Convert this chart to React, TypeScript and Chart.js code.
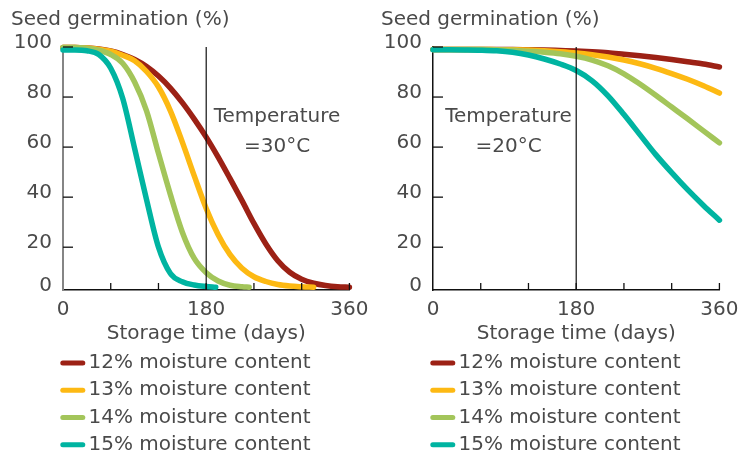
import React, { useEffect, useRef } from "react";
import { Chart, registerables } from "chart.js";

Chart.register(...registerables);

const FONT_FAMILY = "'DejaVu Sans', 'Open Sans', sans-serif";
const TEXT_COLOR = "#4a4a4a";
const FONT_SIZE = 20;

const seriesLabels = [
  "12% moisture content",
  "13% moisture content",
  "14% moisture content",
  "15% moisture content",
];
const seriesColors = ["#9c2115", "#fdb913", "#a3c55a", "#00b4a1"];

const xTickValues = [0, 60, 120, 180, 240, 300, 360];
const xTickLabels = ["0", "", "", "180", "", "", "360"];
const yTickValues = [0, 20, 40, 60, 80, 100];
const yTickLabels = ["0", "20", "40", "60", "80", "100"];
const yAxisTitle = "Seed germination (%)";
const xAxisTitle = "Storage time (days)";
const markerDay = 180;

// Temperature = 30°C (storage days, germination %)
const days30_12 = [0, 15, 30, 45, 60, 75, 90, 105, 120, 135, 150, 165, 180, 195, 210, 225, 240, 255, 270, 285, 300, 315, 330, 345, 360];
const germ30_12 = [99.8, 99.8, 99.6, 99.2, 98.4, 97, 95, 92.2, 88.4, 83.6, 77.8, 71.2, 64, 56, 47.4, 38.6, 29.5, 21.3, 14.6, 10, 7.2, 5.6, 4.7, 4.2, 4];
const days30_13 = [0, 15, 30, 45, 60, 75, 90, 105, 120, 135, 150, 165, 180, 195, 210, 225, 240, 255, 270, 285, 300, 315];
const germ30_13 = [99.8, 99.8, 99.6, 99.1, 98.3, 96.7, 94.5, 90.2, 84, 74.5, 62, 48.5, 35.5, 25, 17, 11.6, 8.2, 6.3, 5.1, 4.5, 4.2, 4];
const days30_14 = [0, 15, 30, 45, 60, 75, 90, 105, 120, 135, 150, 165, 180, 195, 210, 225, 234];
const germ30_14 = [99.8, 99.8, 99.5, 98.7, 97, 93.5, 86, 74.5, 57.5, 41, 26, 15.5, 9.8, 6.5, 4.8, 4.2, 4];
const days30_15 = [0, 15, 30, 45, 60, 75, 90, 105, 120, 135, 150, 165, 180, 192];
const germ30_15 = [98.8, 98.8, 98.5, 97, 91.5, 79.5, 59.5, 39, 20, 9.5, 6.2, 4.9, 4.3, 4];

// Temperature = 20°C
const days20 = [0, 20, 40, 60, 80, 100, 120, 140, 160, 180, 200, 220, 240, 260, 280, 300, 320, 340, 360];
const germ20_12 = [99, 99, 99, 99, 99, 99, 98.9, 98.8, 98.6, 98.4, 98.1, 97.7, 97.1, 96.5, 95.8, 95, 94.1, 93.2, 92];
const germ20_13 = [99, 99, 99, 99, 98.95, 98.9, 98.8, 98.5, 98.1, 97.6, 96.9, 96, 94.8, 93.3, 91.5, 89.4, 87.1, 84.5, 81.6];
const germ20_14 = [99, 99, 99, 99, 98.9, 98.7, 98.3, 97.9, 97.3, 96.3, 94.8, 92.5, 89.3, 85.2, 80.7, 76, 71.3, 66.5, 61.7];
const germ20_15 = [98.9, 98.9, 98.85, 98.75, 98.5, 97.9, 96.8, 95.2, 93.2, 90.6, 86.5, 80.5, 73, 65, 57, 49.8, 43, 36.7, 30.8];

const zip = (xs: number[], ys: number[]) => xs.map((x, i) => ({ x, y: ys[i] }));

type PanelSpec = {
  series: { x: number; y: number }[][];
  tempLines: string[];
  annotDay: number;
  annotLevels: number[];
  yAxisColor: string;
  yAxisWidth: number;
};

const panel30: PanelSpec = {
  series: [
    zip(days30_12, germ30_12),
    zip(days30_13, germ30_13),
    zip(days30_14, germ30_14),
    zip(days30_15, germ30_15),
  ],
  tempLines: ["Temperature", "=30°C"],
  annotDay: 269,
  annotLevels: [72.0, 60.0],
  yAxisColor: "#858585",
  yAxisWidth: 2,
};

const panel20: PanelSpec = {
  series: [
    zip(days20, germ20_12),
    zip(days20, germ20_13),
    zip(days20, germ20_14),
    zip(days20, germ20_15),
  ],
  tempLines: ["Temperature", "=20°C"],
  annotDay: 95,
  annotLevels: [72.0, 60.0],
  yAxisColor: "#111111",
  yAxisWidth: 1.5,
};

const Y_MIN = 2.9;
const font = `${FONT_SIZE}px ${FONT_FAMILY}`;

function makeDecorPlugin(spec: PanelSpec) {
  return {
    id: "decor",
    afterDatasetsDraw(chart: any) {
      const { ctx, chartArea, scales } = chart;
      const xs = scales.x;
      const ys = scales.y;
      const { left, top, bottom } = chartArea;
      ctx.save();
      ctx.strokeStyle = "#111111";
      ctx.lineWidth = 1.2;
      const mx = xs.getPixelForValue(markerDay);
      ctx.beginPath();
      ctx.moveTo(mx, top);
      ctx.lineTo(mx, bottom);
      ctx.stroke();
      ctx.lineWidth = 1.3;
      xTickValues.forEach((v) => {
        if (v === 0) return;
        const px = xs.getPixelForValue(v);
        ctx.beginPath();
        ctx.moveTo(px, bottom);
        ctx.lineTo(px, bottom - 7);
        ctx.stroke();
      });
      yTickValues.forEach((v) => {
        if (v === 0) return;
        const py = ys.getPixelForValue(v);
        ctx.beginPath();
        ctx.moveTo(left, py);
        ctx.lineTo(left + 10, py);
        ctx.stroke();
      });
      ctx.restore();
    },
    afterDraw(chart: any) {
      const { ctx, chartArea, scales } = chart;
      const xs = scales.x;
      const ys = scales.y;
      const { left, bottom } = chartArea;
      ctx.save();
      ctx.font = font;
      ctx.fillStyle = TEXT_COLOR;
      ctx.textBaseline = "middle";
      ctx.textAlign = "left";
      ctx.fillText(yAxisTitle, left - 52, 19.6);
      ctx.textAlign = "center";
      const ax = xs.getPixelForValue(spec.annotDay);
      spec.tempLines.forEach((t, i) => {
        ctx.fillText(t, ax, ys.getPixelForValue(spec.annotLevels[i]));
      });
      chart.data.datasets.forEach((ds: any, i: number) => {
        const y = bottom + 72.9 + i * 27.3;
        ctx.strokeStyle = ds.borderColor;
        ctx.lineWidth = 5;
        ctx.lineCap = "round";
        ctx.beginPath();
        ctx.moveTo(left - 0.2, y);
        ctx.lineTo(left + 19.8, y);
        ctx.stroke();
        ctx.textAlign = "left";
        ctx.fillStyle = TEXT_COLOR;
        ctx.fillText(ds.label, left + 25.5, y);
      });
      ctx.restore();
    },
  };
}

function Panel({ spec, left }: { spec: PanelSpec; left: number }) {
  const ref = useRef<HTMLCanvasElement | null>(null);
  useEffect(() => {
    if (!ref.current) return;
    const chart = new Chart(ref.current, {
      type: "line",
      data: {
        datasets: spec.series.map((pts, i) => ({
          label: seriesLabels[i],
          data: pts,
          borderColor: seriesColors[i],
          backgroundColor: seriesColors[i],
          borderWidth: 5.5,
          borderCapStyle: "round",
          borderJoinStyle: "round",
          pointRadius: 0,
          cubicInterpolationMode: "monotone",
          fill: false,
          order: 3 - i,
          clip: 8,
        })),
      },
      options: {
        animation: false,
        responsive: false,
        devicePixelRatio: 1,
        layout: { padding: { top: 47, left: 0, right: 23, bottom: 108 } },
        plugins: {
          legend: { display: false },
          title: { display: false },
          tooltip: { enabled: false },
        },
        scales: {
          x: {
            type: "linear",
            min: 0,
            max: 360,
            afterBuildTicks: (s: any) => {
              s.ticks = xTickValues.map((v) => ({ value: v }));
            },
            afterFit: (s: any) => {
              s.height = 60;
            },
            grid: { display: false, drawTicks: false },
            border: { display: true, color: "#111111", width: 1.5 },
            ticks: {
              autoSkip: false,
              maxRotation: 0,
              padding: 7.5,
              color: TEXT_COLOR,
              font: { family: FONT_FAMILY, size: FONT_SIZE },
              callback: (_v: any, i: number) => xTickLabels[i],
            },
            title: {
              display: true,
              text: xAxisTitle,
              color: TEXT_COLOR,
              font: { family: FONT_FAMILY, size: FONT_SIZE },
              padding: { top: 0, bottom: 4 },
            },
          },
          y: {
            type: "linear",
            min: Y_MIN,
            max: 100,
            afterBuildTicks: (s: any) => {
              s.ticks = yTickValues.map((v, i) => ({ value: i === 0 ? s.min : v }));
            },
            afterFit: (s: any) => {
              s.width = 63;
            },
            grid: { display: false, drawTicks: false },
            border: { display: true, color: spec.yAxisColor, width: spec.yAxisWidth },
            ticks: {
              autoSkip: false,
              padding: 11,
              labelOffset: -4,
              color: TEXT_COLOR,
              font: { family: FONT_FAMILY, size: FONT_SIZE },
              callback: (_v: any, i: number) => yTickLabels[i],
            },
          },
        },
      },
      plugins: [makeDecorPlugin(spec)],
    } as any);
    return () => chart.destroy();
  }, [spec]);
  return (
    <canvas
      ref={ref}
      width={376}
      height={458}
      style={{ position: "absolute", left, top: 0, width: 376, height: 458 }}
    />
  );
}

export default function App() {
  return (
    <div style={{ position: "absolute", left: 0, top: 0, width: 752, height: 458, background: "#ffffff" }}>
      <Panel spec={panel30} left={0} />
      <Panel spec={panel20} left={370} />
    </div>
  );
}
